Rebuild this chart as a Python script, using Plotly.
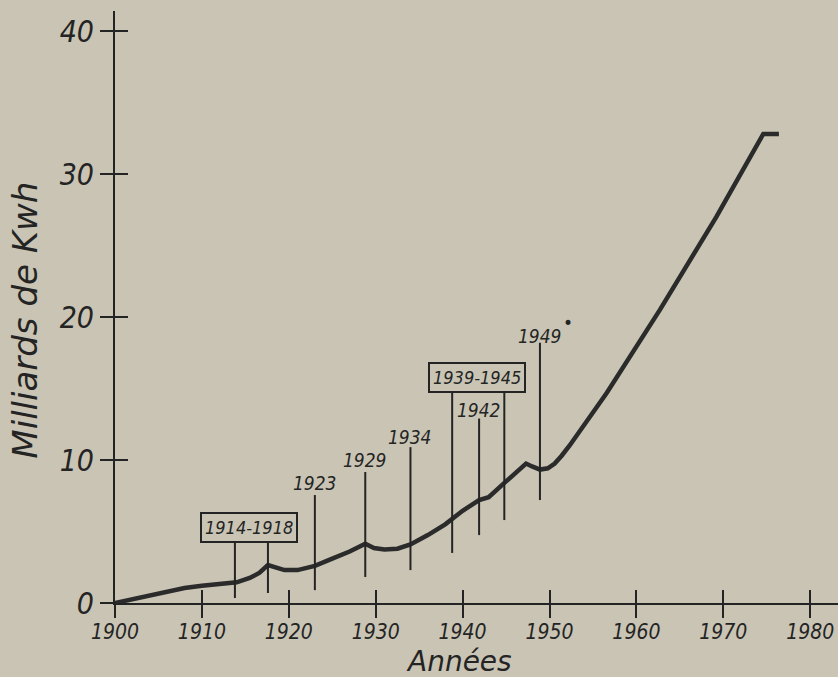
import plotly.graph_objects as go

# --- data ---
years = [1900, 1902, 1904, 1906, 1908, 1910, 1912, 1914, 1915.5, 1916.6, 1917.6,
         1918.5, 1919.5, 1921, 1923, 1925, 1927, 1928.8, 1929.8, 1931, 1932.5,
         1934, 1936, 1938, 1940, 1941.9, 1943, 1945, 1946.5, 1947.3, 1948, 1948.9,
         1949.8, 1950.6, 1951.4, 1952.3, 1956.6, 1962.7, 1969.2, 1974.6, 1976.4]
kwh = [0.0, 0.25, 0.5, 0.8, 1.05, 1.2, 1.3, 1.45, 1.75, 2.1, 2.65,
       2.45, 2.3, 2.3, 2.6, 3.1, 3.6, 4.15, 3.85, 3.75, 3.8,
       4.1, 4.75, 5.5, 6.45, 7.2, 7.4, 8.5, 9.35, 9.75, 9.55, 9.33,
       9.42, 9.75, 10.3, 11.0, 14.7, 20.5, 27.0, 32.8, 32.8]

event_x = [1913.8, 1917.6, 1923.0, 1928.8, 1934.0, 1938.8, 1941.9, 1944.8, 1948.9]
event_top = [4.55, 4.55, 7.55, 9.16, 10.9, 14.9, 12.9, 14.9, 18.2]
event_bottom = [0.35, 0.7, 0.9, 1.82, 2.3, 3.5, 4.75, 5.8, 7.2]

single_labels = ["1923", "1929", "1934", "1942", "1949"]
single_x = [1923.0, 1928.8, 1934.0, 1941.9, 1948.9]
single_y = [8.4, 10.0, 11.6, 13.5, 18.7]

box_labels = ["1914-1918", "1939-1945"]
box_x = [1915.4, 1941.6]
box_y = [5.27, 15.75]

x_ticks = [1900, 1910, 1920, 1930, 1940, 1950, 1960, 1970, 1980]
y_ticks = [0, 10, 20, 30, 40]

BG = "#c9c4b4"
INK = "#242424"
FONT = "DejaVu Sans Condensed, DejaVu Sans, sans-serif"
FONT_W = "DejaVu Sans, sans-serif"

ex, ey = [], []
for x, t, b in zip(event_x, event_top, event_bottom):
    ex += [x, x, None]
    ey += [b, t, None]

fig = go.Figure()
fig.add_trace(go.Scatter(x=ex, y=ey, mode="lines", line=dict(color=INK, width=2),
                         hoverinfo="skip", showlegend=False, xaxis="x2", yaxis="y2"))
fig.add_trace(go.Scatter(x=years, y=kwh, mode="lines",
                         line=dict(color="#2b2b2b", width=4.5, shape="linear"),
                         showlegend=False))

annotations = []
for t, x, y in zip(single_labels, single_x, single_y):
    annotations.append(dict(x=x, y=y, text=t, showarrow=False, xref="x", yref="y",
                            font=dict(family=FONT, size=19, color=INK, style="italic")))
annotations.append(dict(x=1952.1, y=19.6, text="•", showarrow=False, xref="x", yref="y",
                        font=dict(family=FONT_W, size=17, color=INK)))
for t, x, y in zip(box_labels, box_x, box_y):
    annotations.append(dict(x=x, y=y, text=t, showarrow=False, xref="x", yref="y",
                            bordercolor=INK, borderwidth=2, borderpad=3, bgcolor=BG,
                            font=dict(family=FONT, size=18, color=INK, style="italic")))
annotations.append(dict(x=0.476, y=-0.099, xref="paper", yref="paper", text="Années",
                        showarrow=False, xanchor="center", yanchor="middle",
                        font=dict(family=FONT_W, size=28, color=INK, style="italic")))
annotations.append(dict(x=-0.125, y=0.478, xref="paper", yref="paper",
                        text="Milliards de Kwh", textangle=-90, showarrow=False,
                        xanchor="center", yanchor="middle",
                        font=dict(family=FONT_W, size=34, color=INK, style="italic")))

axis_common = dict(showgrid=False, zeroline=False)
fig.update_layout(
    width=838, height=677,
    paper_bgcolor=BG, plot_bgcolor=BG,
    margin=dict(l=115, r=0, t=11, b=74),
    xaxis=dict(range=[1900, 1983.2], tickvals=x_ticks, ticks="outside", ticklen=13,
               tickwidth=2, tickcolor=INK, showline=True, linewidth=2, linecolor=INK,
               ticklabelstandoff=-4,
               tickfont=dict(family=FONT, size=21, color=INK, style="italic"),
               **axis_common),
    yaxis=dict(range=[0, 41.4], tickvals=y_ticks, ticks="outside", ticklen=13,
               tickwidth=2, tickcolor=INK, showline=True, linewidth=2, linecolor=INK,
               tickfont=dict(family=FONT, size=30, color=INK, style="italic"),
               **axis_common),
    xaxis2=dict(overlaying="x", matches="x", anchor="y", tickvals=x_ticks[1:],
                ticks="inside", ticklen=13, tickwidth=2, tickcolor=INK,
                showticklabels=False, showline=False, **axis_common),
    yaxis2=dict(overlaying="y", matches="y", anchor="x", tickvals=y_ticks[1:],
                ticks="inside", ticklen=13, tickwidth=2, tickcolor=INK,
                showticklabels=False, showline=False, **axis_common),
    annotations=annotations,
)

fig.write_html("out.html", config={"displayModeBar": False},
               post_script="document.body.style.margin='0';document.body.style.padding='0';"
                           "document.body.style.overflow='hidden';")
